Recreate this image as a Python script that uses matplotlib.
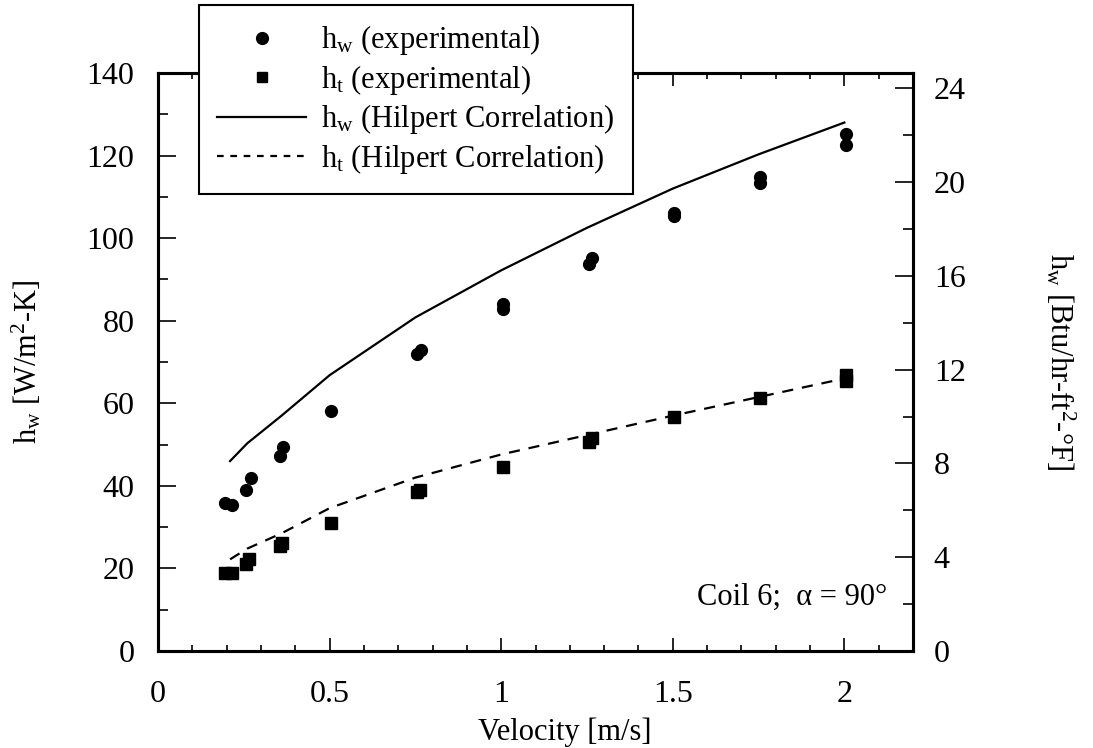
import matplotlib
matplotlib.use("Agg")
import matplotlib.pyplot as plt
from matplotlib.ticker import MultipleLocator
from matplotlib.lines import Line2D

plt.rcParams['font.family'] = ['Liberation Serif', 'DejaVu Serif']
plt.rcParams['mathtext.fontset'] = 'custom'
plt.rcParams['mathtext.rm'] = 'Liberation Serif'
plt.rcParams['mathtext.it'] = 'Liberation Serif:italic'
plt.rcParams['font.size'] = 22

# experimental h_w (circles)
vel_hw = [0.195, 0.215, 0.255, 0.27, 0.355, 0.365, 0.505, 0.755, 0.765,
          1.005, 1.005, 1.255, 1.265, 1.505, 1.505, 1.755, 1.755, 2.005, 2.005]
hw_exp = [35.8, 35.4, 39.0, 42.0, 47.3, 49.3, 58.2, 72.0, 73.0,
          84.0, 82.8, 93.8, 95.3, 105.3, 106.0, 113.3, 114.9, 122.5, 125.3]

# experimental h_t (squares)
vel_ht = [0.195, 0.215, 0.255, 0.265, 0.355, 0.362, 0.505, 0.755, 0.762,
          1.005, 1.255, 1.265, 1.505, 1.755, 2.005, 2.005]
ht_exp = [19.0, 18.8, 21.0, 22.2, 25.5, 26.2, 31.0, 38.6, 39.0,
          44.6, 50.7, 51.5, 56.6, 61.2, 65.5, 66.8]

# Hilpert correlation curves
vel_corr = [0.21, 0.26, 0.36, 0.5, 0.75, 1.0, 1.25, 1.5, 1.75, 2.0]
hw_corr = [46.0, 50.3, 57.0, 66.8, 80.8, 92.2, 102.5, 112.0, 120.3, 128.0]
ht_corr = [22.2, 24.8, 28.5, 34.6, 42.0, 47.6, 52.3, 57.0, 61.5, 66.0]

SI_TO_IP = 5.678  # W/m2-K per Btu/hr-ft2-F

fig = plt.figure(figsize=(10.93, 7.48), dpi=100)
ax = fig.add_axes([158 / 1093, 97 / 748, 755 / 1093, 578 / 748])

ax.plot(vel_corr, hw_corr, color='black', lw=1.6)
ax.plot(vel_corr, ht_corr, color='black', lw=1.6, dashes=(5, 4))
ax.plot(vel_hw, hw_exp, 'o', color='black', ms=8.5)
ax.plot(vel_ht, ht_exp, 's', color='black', ms=8.5)

ax.set_xlim(0, 2.2)
ax.set_ylim(0, 140)
ax.xaxis.set_minor_locator(MultipleLocator(0.1))
ax.yaxis.set_major_locator(MultipleLocator(20))
ax.yaxis.set_minor_locator(MultipleLocator(10))
ax.set_xticks([0, 0.5, 1, 1.5, 2])
ax.set_xticklabels(['0', '0.5', '1', '1.5', '2'])

for s in ax.spines.values():
    s.set_linewidth(2.2)

ax.tick_params(which='both', direction='in', top=True, right=False, width=1.2,
               labelsize=23)
ax.tick_params(axis='x', which='major', length=9.5, pad=21)
ax.tick_params(axis='x', which='minor', length=4.5)
ax.tick_params(axis='y', which='major', length=13, pad=17)
ax.tick_params(axis='y', which='minor', length=7)

# right axis in IP units
ax2 = ax.twinx()
ax2.set_ylim(0, 140 / SI_TO_IP)
ax2.yaxis.set_major_locator(MultipleLocator(4))
ax2.yaxis.set_minor_locator(MultipleLocator(2))
ax2.tick_params(which='both', direction='in', width=1.2, labelsize=23)
ax2.tick_params(which='major', length=13, pad=15)
ax2.tick_params(which='minor', length=7)
for s in ax2.spines.values():
    s.set_linewidth(2.2)

ax.set_xlabel('Velocity [m/s]')
ax.xaxis.set_label_coords((565 - 158) / 755, -0.115)
ax.set_ylabel(r'h$_\mathrm{w}$ [W/m$^\mathrm{2}$-K]')
ax.yaxis.set_label_coords(-0.151, 0.5)
ax2.set_ylabel(r'h$_\mathrm{w}$ [Btu/hr-ft$^\mathrm{2}$-°F]', rotation=270, va='center')
ax2.yaxis.set_label_coords(1.195, 0.5)

ax.text(0.9656, 0.092, 'Coil 6;  α = 90°', transform=ax.transAxes,
        ha='right', va='center')

handles = [
    Line2D([], [], marker='o', ls='none', color='black', ms=8.5),
    Line2D([], [], marker='s', ls='none', color='black', ms=7.5),
    Line2D([], [], color='black', lw=1.6),
    Line2D([], [], color='black', lw=1.6, dashes=(3, 3)),
]
labels = [r'h$_\mathrm{w}$ (experimental)', r'h$_\mathrm{t}$ (experimental)',
          r'h$_\mathrm{w}$ (Hilpert Correlation)', r'h$_\mathrm{t}$ (Hilpert Correlation)']
leg = fig.legend(handles, labels, loc='upper left',
                 bbox_to_anchor=(199 / 1093, 1 - 5 / 748),
                 bbox_transform=fig.transFigure, borderaxespad=0,
                 frameon=True, fancybox=False, framealpha=1, edgecolor='black',
                 handlelength=2.9, handletextpad=0.5, labelspacing=0.18,
                 borderpad=0.6, fontsize=22)
leg.get_frame().set_linewidth(1.5)

fig.savefig('out.png', dpi=100)
